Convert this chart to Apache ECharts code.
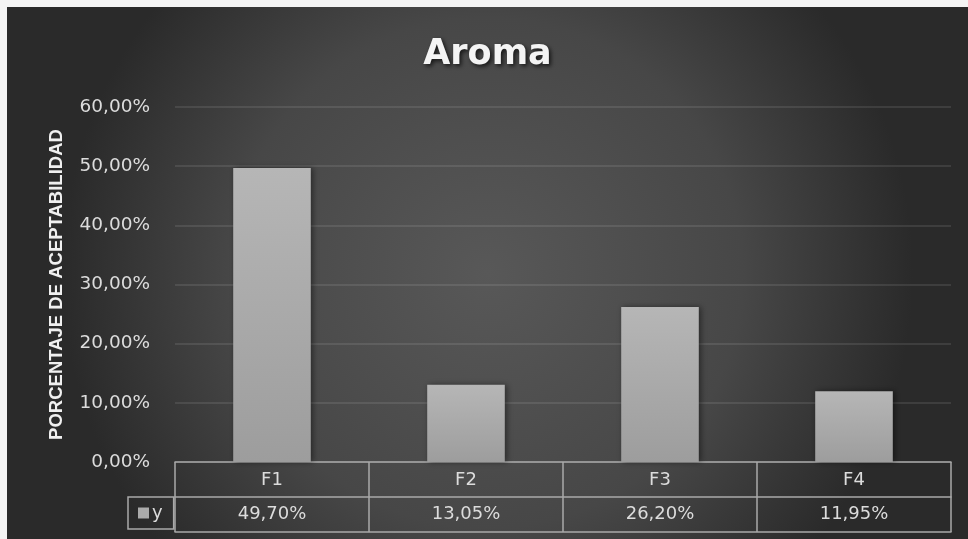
<!DOCTYPE html>
<html>
<head>
<meta charset="utf-8">
<script src="https://cdn.jsdelivr.net/npm/echarts@6/dist/echarts.min.js"></script>
<style>
html,body{margin:0;padding:0;background:#f4f4f4;}
#chart{position:absolute;left:7px;top:7px;width:961px;height:532px;}
</style>
</head>
<body>
<div id="chart"></div>
<script>
const categories = ['F1', 'F2', 'F3', 'F4'];
const seriesName = 'y';
const values = [0.4970, 0.1305, 0.2620, 0.1195];
const titleText = 'Aroma';
const yAxisTitle = 'PORCENTAJE DE ACEPTABILIDAD';
const yMin = 0, yMax = 0.6, yStep = 0.1;

function pct(v) {
  return (v * 100).toFixed(2).replace('.', ',') + '%';
}

const lineCol = '#a9a9a9';
const txtCol = '#dcdcdc';

const chart = echarts.init(document.getElementById('chart'));
chart.setOption({
  animation: false,
  backgroundColor: {
    type: 'radial', x: 0.5, y: 0.5, r: 0.8,
    colorStops: [
      { offset: 0, color: '#585858' },
      { offset: 0.6, color: '#474747' },
      { offset: 1, color: '#2a2a2a' }
    ]
  },
  title: {
    text: titleText,
    left: 'center',
    top: 25,
    textStyle: {
      color: '#f4f4f4',
      fontFamily: 'DejaVu Sans',
      fontWeight: 'bold',
      fontSize: 35,
      textShadowColor: 'rgba(0,0,0,0.7)',
      textShadowBlur: 4,
      textShadowOffsetX: 2,
      textShadowOffsetY: 2
    }
  },
  legend: {
    data: [seriesName],
    left: 121,
    top: 490,
    orient: 'horizontal',
    borderColor: lineCol,
    borderWidth: 1.5,
    padding: [7, 11, 7, 10],
    itemWidth: 11,
    itemHeight: 11,
    itemGap: 0,
    icon: 'rect',
    itemStyle: { color: '#ababab' },
    textStyle: { color: txtCol, fontSize: 18, fontFamily: 'DejaVu Sans', padding: [0, 0, 0, -2] }
  },
  grid: { left: 168, right: 17, top: 100, bottom: 77, containLabel: false },
  xAxis: [
    {
      type: 'category',
      data: categories,
      position: 'bottom',
      axisLine: { show: true, lineStyle: { color: lineCol, width: 1.5 } },
      axisTick: { show: true, length: 70, alignWithLabel: false, lineStyle: { color: lineCol, width: 1.5 } },
      axisLabel: { color: txtCol, fontSize: 18, fontFamily: 'DejaVu Sans', margin: 9 },
      splitLine: { show: false }
    },
    {
      type: 'category',
      data: categories,
      position: 'bottom',
      offset: 35,
      axisLine: { show: true, lineStyle: { color: lineCol, width: 1.5 } },
      axisTick: { show: false },
      axisLabel: {
        color: txtCol, fontSize: 18, fontFamily: 'DejaVu Sans', margin: 8,
        formatter: function (v, i) { return pct(values[i]); }
      }
    },
    {
      type: 'category',
      data: categories,
      position: 'bottom',
      offset: 70,
      axisLine: { show: true, lineStyle: { color: lineCol, width: 1.5 } },
      axisTick: { show: false },
      axisLabel: { show: false }
    }
  ],
  yAxis: {
    type: 'value',
    min: yMin,
    max: yMax,
    interval: yStep,
    name: yAxisTitle,
    nameLocation: 'middle',
    nameRotate: 90,
    nameGap: 109,
    nameTextStyle: { color: '#f0f0f0', fontSize: 18.5, fontWeight: 'bold', fontFamily: 'Liberation Sans' },
    axisLine: { show: false },
    axisTick: { show: false },
    axisLabel: { color: txtCol, fontSize: 18.5, fontFamily: 'DejaVu Sans', margin: 25, formatter: pct },
    splitLine: { show: true, lineStyle: { color: 'rgba(255,255,255,0.13)', width: 1.5 } }
  },
  series: [{
    name: seriesName,
    type: 'bar',
    xAxisIndex: 0,
    data: values,
    barWidth: '40%',
    itemStyle: {
      color: {
        type: 'linear', x: 0, y: 0, x2: 0, y2: 1,
        colorStops: [{ offset: 0, color: '#b6b6b6' }, { offset: 1, color: '#9d9d9d' }]
      },
      shadowColor: 'rgba(0,0,0,0.45)',
      shadowBlur: 6,
      shadowOffsetX: 2,
      shadowOffsetY: 0
    }
  }]
});
</script>
</body>
</html>
